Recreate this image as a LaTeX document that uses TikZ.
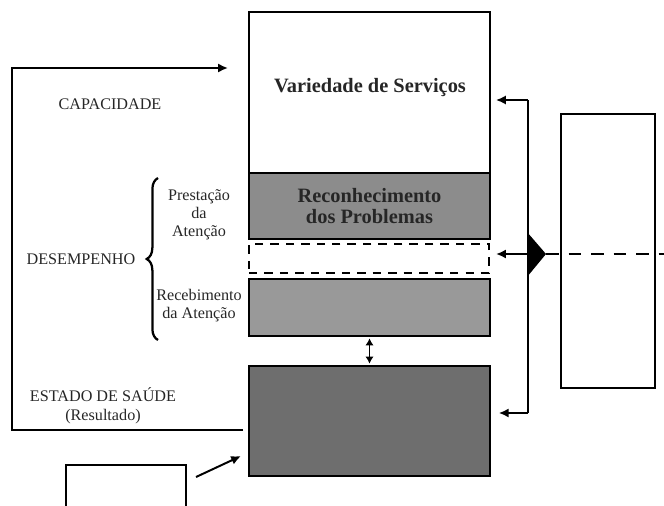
\documentclass[tikz,border=0pt]{standalone}
\usepackage{fontspec}
\setmainfont{Liberation Serif}
\usetikzlibrary{positioning,calc,arrows.meta,decorations.pathreplacing}

\tikzset{
  box/.style={draw, line width=1.4pt, inner sep=0pt, align=center},
  lbl/.style={font=\fontsize{11.5}{12.8}\selectfont, text=black!85, align=center},
  bold/.style={font=\fontsize{14.5}{15.6}\selectfont\bfseries, text=black!85, align=center},
  arr/.style={line width=1.4pt, -{Latex[length=7pt,width=6.5pt]}},
  dbl/.style={line width=1.4pt, {Latex[length=5pt,width=6pt]}-{Latex[length=5pt,width=6pt]}},
}

\begin{document}
\begin{tikzpicture}[x=0.025cm, y=-0.025cm]
    \useasboundingbox (0,0) rectangle (664,506);
    \clip (0,0) rectangle (664,506);

    % Main column
    \node[box, minimum width=6.025cm, minimum height=4.025cm] (serv) at (369.5,92.5) {};
    \node[bold] (servtxt) at (370,88) {Variedade de Serviços};
    \node[box, bold, fill=black!45, minimum width=6.025cm, minimum height=1.65cm] (recon) at (369.5,206) {Reconhecimento\\dos Problemas};
    \node[box, dash pattern=on 6pt off 5pt, minimum width=6cm, minimum height=0.725cm] (gap) at (369,258.5) {};
    \node[box, fill=black!40, minimum width=6.025cm, minimum height=1.425cm] (rcb) at (369.5,307.5) {};
    \node[box, fill=black!57, minimum width=6.025cm, minimum height=2.75cm] (saude) at (369.5,421) {};
    \draw[dbl, shorten <=1pt, shorten >=1pt] (rcb.south) -- (saude.north);

    % Right side
    \node[box, minimum width=2.35cm, minimum height=6.85cm] (ext) at (608,251) {};
    \coordinate (rtop) at (528,100);
    \coordinate (rbot) at (528,413);
    \draw[line width=1.4pt] (rtop) -- (rbot);
    \draw[arr, shorten >=3.5pt] (rtop) -- (rtop -| serv.east);
    \draw[arr, shorten >=5.5pt] (rbot) -- (rbot -| saude.east);
    \coordinate (valve) at (527,254);
    \coordinate (vtip) at (546,254);
    \coordinate (edge) at (664,254);
    \fill (527,232) -- (vtip) -- (527,277) -- cycle;
    \draw[arr, shorten >=4.3pt] (valve) -- (valve -| gap.east);
    \draw[line width=1.4pt, dash pattern=on 9pt off 7pt] (vtip) -- (edge);

    % Left loop
    \coordinate (fbin) at (243,430);
    \coordinate (fbout) at (228,68);
    \draw[arr] (fbin) -| (12,68) -- (fbout);

    % Small box
    \node[box, minimum width=3cm, minimum height=1.5cm] (obs) at (126,495) {};
    \draw[arr] ([shift={(9,-18)}]obs.east) -- ([shift={(-7,35)}]saude.west);

    % Labels
    \draw[line width=1.6pt, decorate, decoration={brace, amplitude=8pt}] (158,340) -- (158,178);
    \node[lbl] (capac) at (110,104) {CAPACIDADE};
    \node[lbl] (desemp) at (81,259) {DESEMPENHO};
    \node[lbl] (prest) at (199,215) {Prestação\\da\\Atenção};
    \node[lbl] (rcbtxt) at (199,305.5) {Recebimento\\da Atenção};
    \node[lbl] (estado) at (103,406) {ESTADO DE SAÚDE\\[1pt](Resultado)};
\end{tikzpicture}
\end{document}
